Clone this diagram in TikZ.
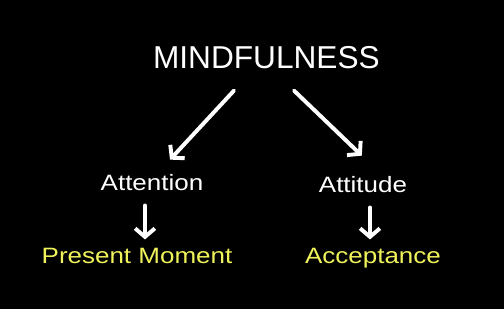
\documentclass[tikz,border=0pt]{standalone}
\usepackage{fontspec}
\setmainfont{Liberation Sans}
\newfontfamily\widesans[FakeStretch=1.17]{Liberation Sans}
\usetikzlibrary{arrows.meta}
\usepackage{xcolor}
\definecolor{ink}{HTML}{FFFFFF}
\definecolor{hilite}{HTML}{F0F25A}
\tikzset{
  title/.style={inner sep=0pt, anchor=base, text=ink,
                font=\fontsize{22.5}{27}\selectfont},
  lvl/.style={inner sep=0pt, anchor=base, text=ink,
              font=\widesans\fontsize{15.8}{19}\selectfont},
  leaf/.style={lvl, text=hilite},
  ar/.style={-{Straight Barb[length=6pt,width=14pt]}, line width=2.8pt,
             draw=ink, line cap=round, line join=round}
}
\begin{document}
\begin{tikzpicture}[x=1cm,y=1cm]

  % background
  \fill[black] (0,0) rectangle (12.6,7.725);
  \useasboundingbox (0,0) rectangle (12.6,7.725);

  % top
  \node[title] (mind) at (6.66,6.025) {MINDFULNESS};

  % middle row
  \node[lvl] (atn) at (3.8,2.975) {Attention};
  \node[lvl] (atd) at (9.075,2.925) {Attitude};

  % bottom row
  \node[leaf] (pm) at (3.425,1.15) {Present Moment};
  \node[leaf] (acc) at (9.325,1.15) {Acceptance};

  % arrows
  \draw[ar] ([xshift=-0.81cm,yshift=-0.55cm]mind.south) -- ([xshift=0.45cm,yshift=0.35cm]atn.north);
  \draw[ar] ([xshift=0.69cm,yshift=-0.55cm]mind.south) -- ([xshift=-0.03cm,yshift=0.5cm]atd.north);
  \draw[ar] ([xshift=-0.175cm,yshift=-0.375cm]atn.south) -- ([xshift=0.2cm,yshift=0.2cm]pm.north);
  \draw[ar] ([xshift=0.175cm,yshift=-0.375cm]atd.south) -- ([xshift=-0.075cm,yshift=0.2cm]acc.north);
\end{tikzpicture}
\end{document}
